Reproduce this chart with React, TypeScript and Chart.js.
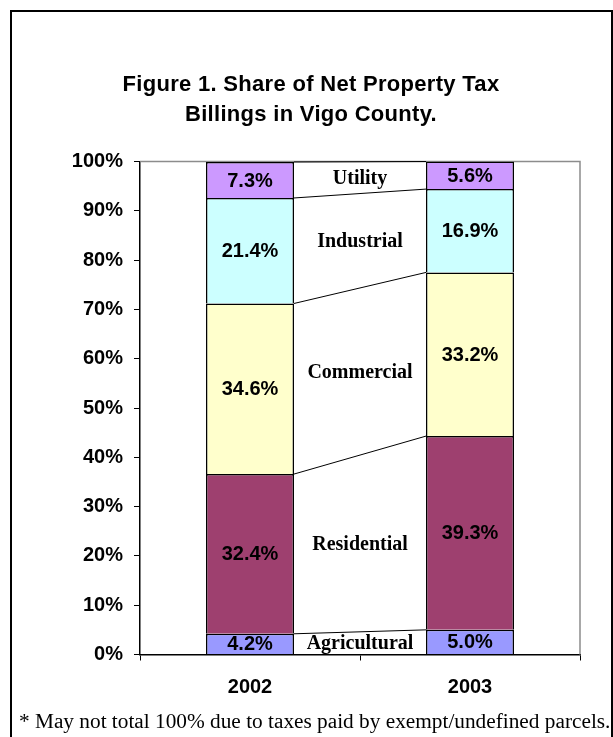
import React, { useEffect, useRef } from "react";
import { Chart, registerables } from "chart.js";

Chart.register(...registerables);

// ---- data ----
const categories = ["2002", "2003"];
const seriesNames = ["Agricultural", "Residential", "Commercial", "Industrial", "Utility"];
const agricultural = [4.2, 5.0];
const residential = [32.4, 39.3];
const commercial = [34.6, 33.2];
const industrial = [21.4, 16.9];
const utility = [7.3, 5.6];
const seriesValues = [agricultural, residential, commercial, industrial, utility];
const seriesColors = ["#9999FF", "#9E406F", "#FFFFCC", "#CCFFFF", "#CC99FF"];
const titleLines = ["Figure 1. Share of Net Property Tax", "Billings in Vigo County."];
const footnote = "* May not total 100% due to taxes paid by exempt/undefined parcels.";

const SANS = "Arial, 'Liberation Sans', Helvetica, sans-serif";
const SERIF = "'Times New Roman', 'Liberation Serif', Times, serif";

const overlay = {
  id: "overlay",
  beforeDraw(chart: any) {
    const ctx = chart.ctx;
    ctx.save();
    ctx.fillStyle = "#fff";
    ctx.fillRect(0, 0, chart.width, chart.height);
    ctx.restore();
  },
  beforeDatasetsDraw(chart: any) {
    const ctx = chart.ctx;
    const ca = chart.chartArea;
    ctx.save();
    ctx.strokeStyle = "#8c8c8c";
    ctx.lineWidth = 1.5;
    ctx.beginPath();
    ctx.moveTo(ca.left, ca.top);
    ctx.lineTo(ca.right, ca.top);
    ctx.lineTo(ca.right, ca.bottom);
    ctx.stroke();
    ctx.restore();
  },
  afterDatasetsDraw(chart: any) {
    const ctx = chart.ctx;
    const n = chart.data.datasets.length;
    ctx.save();
    // series lines
    ctx.strokeStyle = "#000";
    ctx.lineWidth = 1;
    for (let i = 0; i < n; i++) {
      const m = chart.getDatasetMeta(i);
      const a = m.data[0];
      const b = m.data[1];
      ctx.beginPath();
      ctx.moveTo(a.x + a.width / 2, a.y);
      ctx.lineTo(b.x - b.width / 2, b.y);
      ctx.stroke();
    }
    // data labels
    ctx.fillStyle = "#000";
    ctx.textAlign = "center";
    ctx.textBaseline = "middle";
    ctx.font = `bold 20px ${SANS}`;
    for (let i = 0; i < n; i++) {
      const m = chart.getDatasetMeta(i);
      m.data.forEach((el: any, j: number) => {
        const v = chart.data.datasets[i].data[j];
        ctx.fillText(v.toFixed(1) + "%", el.x, (el.y + el.base) / 2 + 1);
      });
    }
    // category labels in the gap
    ctx.font = `bold 20px ${SERIF}`;
    for (let i = 0; i < n; i++) {
      const m = chart.getDatasetMeta(i);
      const a = m.data[0];
      const b = m.data[1];
      const gx = (a.x + a.width / 2 + b.x - b.width / 2) / 2;
      const top = (a.y + b.y) / 2;
      const bot = (a.base + b.base) / 2;
      ctx.fillText(seriesNames[i], gx, (top + bot) / 2 + 1);
    }
    ctx.restore();
  },
  afterDraw(chart: any) {
    const ctx = chart.ctx;
    ctx.save();
    ctx.fillStyle = "#000";
    ctx.textAlign = "center";
    ctx.textBaseline = "alphabetic";
    ctx.font = `bold 22px ${SANS}`;
    try {
      (ctx as any).letterSpacing = "0.3px";
    } catch (e) {}
    ctx.fillText(titleLines[0], 311, 91);
    ctx.fillText(titleLines[1], 311, 121);
    try {
      (ctx as any).letterSpacing = "0px";
    } catch (e) {}
    ctx.textAlign = "left";
    ctx.font = `21.3px ${SERIF}`;
    ctx.fillText(footnote, 19, 728);
    ctx.strokeStyle = "#000";
    ctx.lineWidth = 2;
    ctx.strokeRect(11, 11, 601, 760);
    ctx.restore();
  },
};

export default function App() {
  const ref = useRef<HTMLCanvasElement | null>(null);
  useEffect(() => {
    if (!ref.current) return;
    const chart = new Chart(ref.current, {
      type: "bar",
      data: {
        labels: categories,
        datasets: seriesValues.map((vals, i) => ({
          label: seriesNames[i],
          data: vals,
          backgroundColor: seriesColors[i],
          borderColor: "#000",
          borderWidth: 1.5,
          barPercentage: 0.4,
          categoryPercentage: 1.0,
        })),
      },
      options: {
        responsive: false,
        animation: false,
        devicePixelRatio: 1,
        layout: { padding: { top: 161.5, right: 33, left: 0, bottom: 0 } },
        plugins: {
          legend: { display: false },
          tooltip: { enabled: false },
          title: { display: false },
        },
        scales: {
          x: {
            stacked: true,
            grid: { drawOnChartArea: false, drawTicks: true, tickLength: 6, color: "#000", offset: true },
            border: { color: "#000", width: 1.5 },
            ticks: { font: { family: SANS, size: 20, weight: "bold" }, color: "#000", padding: 15, maxRotation: 0 },
            afterFit: (s: any) => {
              s.height = 82.5;
            },
          },
          y: {
            stacked: true,
            min: 0,
            max: 100,
            ticks: {
              stepSize: 10,
              callback: (v: any) => v + "%",
              font: { family: SANS, size: 20, weight: "bold" },
              color: "#000",
              padding: 11,
            },
            grid: { drawOnChartArea: false, drawTicks: true, tickLength: 6, color: "#000" },
            border: { color: "#000", width: 1.5 },
            afterFit: (s: any) => {
              s.width = 140;
            },
          },
        },
      },
      plugins: [overlay],
    });
    return () => chart.destroy();
  }, []);
  return (
    <div style={{ position: "absolute", left: 0, top: 0, width: 613, height: 737 }}>
      <canvas ref={ref} width={613} height={737} style={{ display: "block", width: 613, height: 737 }} />
    </div>
  );
}
